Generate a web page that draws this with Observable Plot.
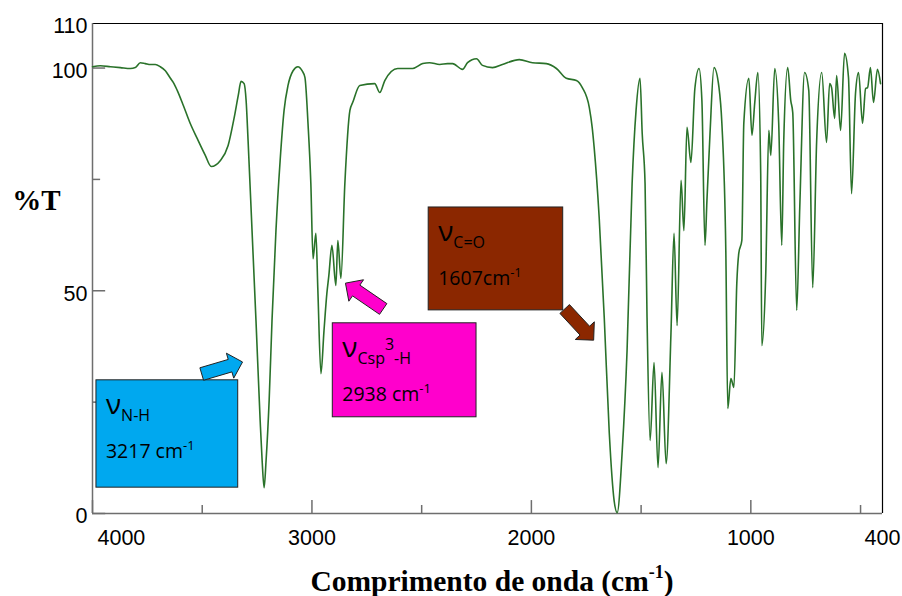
<!DOCTYPE html>
<html><head><meta charset="utf-8">
<script src="https://cdn.jsdelivr.net/npm/d3@7"></script>
<script src="https://cdn.jsdelivr.net/npm/@observablehq/plot@0.6"></script>
<style>body{margin:0;background:#fff}#chart svg{display:block}</style>
</head><body><div id="chart"></div>
<script>
// IR spectrum: wavenumber (cm-1) and transmittance (%T)
const wavenumber = [4000,3964,3918,3873,3827,3805,3782,3759,3736,3714,3691,3668,3645,3632,3614,3586,3555,3523,3486,3459,3418,3382,3355,3336,3323,3309,3300,3291,3273,3255,3236,3227,3218,3209,3195,3182,3164,3145,3127,3109,3086,3064,3045,3032,3018,3005,2995,2982,2973,2959,2945,2932,2923,2909,2891,2882,2868,2850,2827,2814,2782,2714,2691,2668,2609,2541,2495,2464,2418,2382,2359,2314,2291,2250,2223,2177,2132,2055,1995,1932,1886,1841,1795,1768,1736,1723,1714,1691,1668,1645,1623,1609,1586,1564,1541,1523,1505,1495,1482,1473,1459,1441,1423,1405,1386,1364,1350,1336,1318,1305,1291,1273,1255,1236,1223,1209,1200,1186,1168,1145,1132,1114,1105,1091,1077,1064,1055,1041,1032,1009,995,982,968,955,950,932,918,909,891,873,859,850,832,818,809,791,777,755,736,718,700,677,655,641,632,618,609,591,573,555,541,523,509,491,477,468,455,441,423,409];
const transmittance = [100.3,100.5,100.3,100.1,99.9,100.1,101.2,101.0,100.8,100.8,100.3,99.4,97.7,96.8,95.0,91.6,87.6,84.2,80.4,77.9,79.2,82.6,88.7,93.8,97.0,96.5,92.7,83.7,63.5,43.3,20.9,11.9,5.8,11.9,25.4,43.3,63.5,79.2,90.5,96.1,99.4,100.3,99.4,97.9,87.6,74.1,57.2,62.9,50.1,31.4,41.1,49.4,53.4,60.2,51.2,61.3,52.8,74.1,90.5,92.3,96.1,96.5,94.5,97.2,99.9,99.9,101.0,101.2,100.8,101.0,101.0,99.7,101.2,102.1,100.6,100.1,100.8,101.9,101.2,101.0,99.9,97.7,97.2,95.6,91.1,86.7,82.2,66.4,44.0,18.0,2.9,0.2,14.1,36.6,74.1,90.5,97.7,85.3,74.1,44.0,16.4,33.9,10.3,31.7,11.2,40.4,62.9,42.2,74.8,63.5,86.7,78.8,95.4,99.9,92.7,60.2,70.3,85.3,100.1,95.6,87.6,59.0,23.6,30.3,28.3,51.6,58.4,61.3,87.6,97.7,84.9,92.3,99.0,76.3,37.7,53.9,86.0,80.4,99.9,87.6,60.2,83.7,100.1,92.7,90.0,45.6,68.7,99.0,95.0,50.7,83.7,99.0,83.3,96.5,95.6,88.7,98.3,86.0,103.3,97.9,71.8,94.3,99.0,87.6,95.4,95.6,100.1,92.3,99.7,96.5];

// axis ticks
const xTicksMajor = [4000, 3000, 2000, 1000];
const xTicksMinor = [3500, 2500, 1500, 500];
const xTickLabels = [4000, 3000, 2000, 1000, 400];
const yTicksMajor = [0, 50, 100];
const yTicksMinor = [25, 75];
const yTickLabels = [0, 50, 100, 110];

// annotation boxes (data units)
const bandSub = ["N-H", "Csp", "C=O"];
const bandSup = ["", "3", ""];
const bandSubTail = ["", "-H", ""];
const bandValue = ["3217 cm", "2938 cm", "1607cm"];
const boxX1 = [3982, 2905, 2468];
const boxX2 = [3336, 2250, 1855];
const boxY1 = [5.8, 21.6, 45.6];
const boxY2 = [29.9, 42.7, 68.7];
const boxColors = ["#00a8ef", "#ff00cc", "#8b2700"];
// arrows (tail -> tip, data units)
const arrowTailX = [3500, 2673, 1846];
const arrowTailY = [31.2, 45.8, 45.8];
const arrowTipX = [3314, 2845, 1714];
const arrowTipY = [33.9, 51.6, 38.8];

const spectrum = wavenumber.map((w, i) => ({w, t: transmittance[i]}));
const boxes = boxX1.map((x1, i) => ({x1, x2: boxX2[i], y1: boxY1[i], y2: boxY2[i], color: boxColors[i]}));

const axisGray = "#6e6e6e";
const tickFont = "'Liberation Sans', Arial, sans-serif";
const serif = "'Liberation Serif', 'Times New Roman', serif";
const boxFont = "'Open Sans', sans-serif";

function annotations(index, scales, values, dims) {
  const x = scales.x, y = scales.y;
  const g = d3.create("svg:g");
  // arrows
  for (let i = 0; i < arrowTailX.length; i++) {
    const T = [x(arrowTailX[i]), y(arrowTailY[i])];
    const P = [x(arrowTipX[i]), y(arrowTipY[i])];
    const dx = P[0] - T[0], dy = P[1] - T[1];
    const L = Math.hypot(dx, dy);
    const u = [dx / L, dy / L], n = [-u[1], u[0]];
    const sw = 6.5, hw = 13, hl = 13;
    const B = [P[0] - u[0] * hl, P[1] - u[1] * hl];
    const pts = [
      [T[0] + n[0] * sw, T[1] + n[1] * sw],
      [B[0] + n[0] * sw, B[1] + n[1] * sw],
      [B[0] + n[0] * hw, B[1] + n[1] * hw],
      P,
      [B[0] - n[0] * hw, B[1] - n[1] * hw],
      [B[0] - n[0] * sw, B[1] - n[1] * sw],
      [T[0] - n[0] * sw, T[1] - n[1] * sw]
    ];
    g.append("polygon").attr("points", pts.map(p => p.join(",")).join(" "))
      .attr("fill", boxColors[i]).attr("stroke", "#222").attr("stroke-width", 1);
  }
  // box texts
  for (let i = 0; i < bandSub.length; i++) {
    const x0 = x(boxX1[i]), y0 = y(boxY2[i]);
    const t1 = g.append("text").attr("x", x0 + 10).attr("y", y0 + 34)
      .attr("text-anchor", "start")
      .attr("font-family", boxFont).attr("fill", "#000");
    t1.append("tspan").attr("font-size", 28).text("ν");
    t1.append("tspan").attr("font-size", 16).attr("dy", 7).text(bandSub[i]);
    if (bandSup[i]) {
      t1.append("tspan").attr("font-size", 16).attr("dy", -14).text(bandSup[i]);
      t1.append("tspan").attr("font-size", 16).attr("dy", 14).text(bandSubTail[i]);
    }
    const t2 = g.append("text").attr("x", x0 + 10).attr("y", y0 + 78)
      .attr("text-anchor", "start")
      .attr("font-family", boxFont).attr("font-size", 19.5).attr("fill", "#000");
    t2.append("tspan").text(bandValue[i]);
    t2.append("tspan").attr("font-size", 13).attr("dy", -8).text("-1");
  }
  // x axis title
  const cx = (dims.marginLeft + dims.width - dims.marginRight) / 2 + 5;
  const tt = g.append("text").attr("x", cx).attr("y", dims.height - 5)
    .attr("text-anchor", "middle").attr("font-family", serif)
    .attr("font-weight", "bold").attr("font-size", 29.5).attr("fill", "#000");
  tt.append("tspan").text("Comprimento de onda (cm");
  tt.append("tspan").attr("font-size", 18).attr("dy", -13).text("-1");
  tt.append("tspan").attr("dy", 13).text(")");
  return g.node();
}

const plot = Plot.plot({
  width: 902,
  height: 596,
  marginLeft: 92,
  marginRight: 20,
  marginTop: 23,
  marginBottom: 83,
  x: {domain: [4000, 400], axis: null},
  y: {domain: [0, 110], axis: null},
  style: {background: "#fff", overflow: "visible"},
  marks: [
    // frame
    Plot.ruleY([110], {stroke: "#000", strokeWidth: 1.2}),
    Plot.ruleX([400], {stroke: "#000", strokeWidth: 1.2}),
    Plot.ruleY([0], {stroke: axisGray, strokeWidth: 1.5}),
    Plot.ruleX([4000], {stroke: axisGray, strokeWidth: 1.5}),
    // inward ticks
    Plot.ruleX(xTicksMajor, {y1: 0, y2: 2.9, stroke: axisGray, strokeWidth: 1.5}),
    Plot.ruleX(xTicksMinor, {y1: 0, y2: 1.8, stroke: axisGray, strokeWidth: 1.5}),
    Plot.ruleY(yTicksMajor, {x1: 4000, x2: 3940, stroke: axisGray, strokeWidth: 1.5}),
    Plot.ruleY(yTicksMinor, {x1: 4000, x2: 3963, stroke: axisGray, strokeWidth: 1.5}),
    // tick labels
    Plot.text(xTickLabels.slice(0, 1), {x: d => d, y: 0, dy: 25, dx: 5, textAnchor: "start", text: d => String(d), fontSize: 21.5, fontFamily: tickFont, fill: "#000"}),
    Plot.text(xTickLabels.slice(1), {x: d => d, y: 0, dy: 25, text: d => String(d), fontSize: 21.5, fontFamily: tickFont, fill: "#000"}),
    Plot.text(yTickLabels, {x: 4000, y: d => d, dx: -5, dy: 3, textAnchor: "end", text: d => String(d), fontSize: 21.5, fontFamily: tickFont, fill: "#000"}),
    // y axis title
    Plot.text(["%T"], {x: 4000, y: 70.3, dx: -56, text: d => d, fontSize: 29, fontWeight: "bold", fontFamily: serif, fill: "#000"}),
    // spectrum
    Plot.line(spectrum, {x: "w", y: "t", stroke: "#2a722a", strokeWidth: 1.6, curve: "monotone-x"}),
    // boxes
    Plot.rect(boxes, {x1: "x1", x2: "x2", y1: "y1", y2: "y2", fill: "color", stroke: "#222", strokeWidth: 1}),
    annotations
  ]
});
document.getElementById("chart").append(plot);
</script>
</body></html>
